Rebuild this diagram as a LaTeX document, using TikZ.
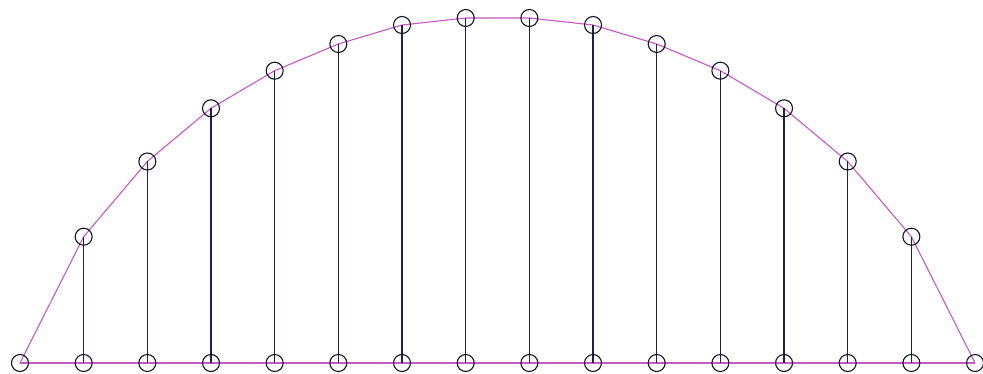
\documentclass[tikz,border=0pt]{standalone}
\definecolor{arcpink}{RGB}{196,90,196}
\definecolor{stemnavy}{RGB}{30,30,80}
\definecolor{ringdark}{RGB}{20,20,40}
\tikzset{
  ring/.style={circle,draw=ringdark,line width=1.1pt,minimum size=17pt,inner sep=0pt},
  stem/.style={draw=stemnavy,line width=1.5pt},
  arcline/.style={draw=arcpink,line width=1.1pt},
  baseline/.style={draw=arcpink,line width=1.5pt}
}
\begin{document}
\begin{tikzpicture}[x=1pt,y=-1pt]
\useasboundingbox (0,0) rectangle (983,374);
\fill[white] (0,0) rectangle (983,374);
\def\dx{63.67}
% base nodes and top nodes
\foreach \i/\ty in {0/363,1/236.7,2/161.5,3/108.3,4/70.7,5/44,6/25,7/18,8/18,9/25,10/44,11/70.7,12/108.3,13/161.5,14/236.7,15/363}{
  \coordinate (b\i) at ({20+\i*\dx},363);
  \coordinate (t\i) at ({20+\i*\dx},\ty);
}
% base line
\draw[baseline] (b0) -- (b15);
% arc polyline
\draw[arcline] (t0) \foreach \i in {1,...,15}{ -- (t\i)};
% stems
\foreach \i in {1,...,14}{ \draw[stem] (b\i) -- (t\i); }
% rings
\foreach \i in {0,...,15}{ \node[ring] (rb\i) at (b\i) {}; }
\foreach \i in {1,...,14}{ \node[ring] (rt\i) at (t\i) {}; }
\end{tikzpicture}
\end{document}
